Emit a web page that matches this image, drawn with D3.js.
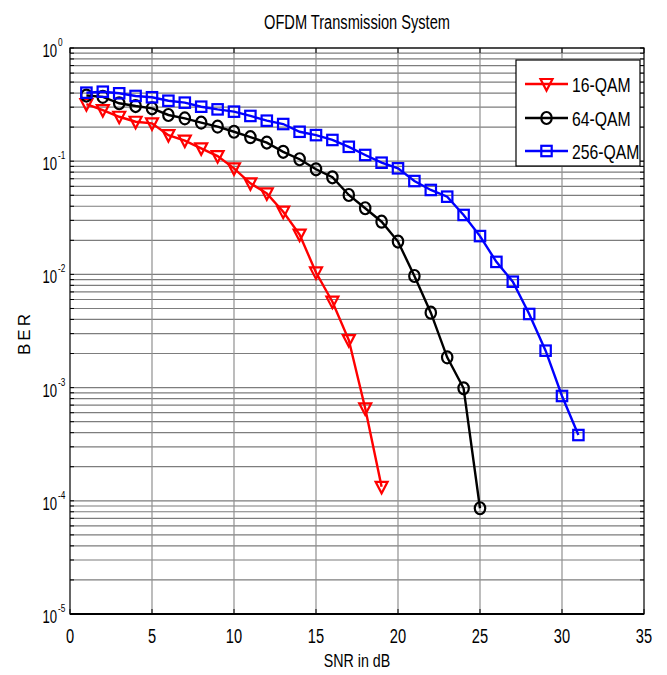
<!DOCTYPE html>
<html>
<head>
<meta charset="utf-8">
<script src="https://cdn.jsdelivr.net/npm/d3@7"></script>
<style>
  body { margin: 0; background: #fff; }
  text { font-family: "Liberation Sans", Arial, sans-serif; fill: #000; }
</style>
</head>
<body>
<div id="chart"></div>
<script>
// ── Data ───────────────────────────────────────────────────────────────────────
const snr16 = [1,2,3,4,5,6,7,8,9,10,11,12,13,14,15,16,17,18,19];
const ber16 = [0.32,0.283,0.247,0.223,0.216,0.170,0.152,0.130,0.111,0.0865,0.0638,0.052,0.0358,0.0225,0.0104,0.00574,0.00263,0.000656,0.000133];

const snr64 = [1,2,3,4,5,6,7,8,9,10,11,12,13,14,15,16,17,18,19,20,21,22,23,24,25];
const ber64 = [0.38,0.37,0.325,0.307,0.293,0.256,0.239,0.219,0.202,0.182,0.163,0.146,0.121,0.104,0.0848,0.0721,0.0503,0.0384,0.0292,0.0195,0.00968,0.00459,0.00185,0.000986,0.0000859];

const snr256 = [1,2,3,4,5,6,7,8,9,10,11,12,13,14,15,16,17,18,19,20,21,22,23,24,25,26,27,28,29,30,31];
const ber256 = [0.403,0.411,0.398,0.377,0.367,0.342,0.329,0.303,0.287,0.274,0.251,0.228,0.213,0.182,0.170,0.154,0.134,0.1135,0.097,0.0865,0.0668,0.0557,0.0486,0.0335,0.0218,0.0129,0.00862,0.00447,0.00212,0.000843,0.000381];

const xTicks = [0,5,10,15,20,25,30,35];
const yExponents = [0,-1,-2,-3,-4,-5];
const seriesNames = ["16-QAM","64-QAM","256-QAM"];

// ── Layout ─────────────────────────────────────────────────────────────────────
const W = 667, H = 675;
const plot = { left: 70, right: 644, top: 48, bottom: 614 };
const SQUEEZE = 0.75;   // the source font is a condensed sans

const svg = d3.select("#chart").append("svg")
    .attr("width", W).attr("height", H);

const x = d3.scaleLinear().domain([0, 35]).range([plot.left, plot.right]);
const y = d3.scaleLog().domain([1e-5, 1]).range([plot.bottom, plot.top]);

// condensed text: wrap in a horizontally squeezed group
function ctext(parent, px, py, size, anchor) {
    return parent.append("g")
        .attr("transform", `translate(${px},${py}) scale(${SQUEEZE},1)`)
        .append("text")
        .attr("text-anchor", anchor || "start")
        .attr("font-size", size);
}

// ── Grid ───────────────────────────────────────────────────────────────────────
let minorVals = [];
for (let e = -5; e < 0; e++) {
    for (let m = 1; m < 10; m++) minorVals.push(m * Math.pow(10, e));
}
minorVals.push(1);

const grid = svg.append("g").attr("class", "grid");
grid.selectAll(".hgrid").data(minorVals).enter().append("line")
    .attr("x1", plot.left).attr("x2", plot.right)
    .attr("y1", d => y(d)).attr("y2", d => y(d))
    .attr("stroke", "#7d7d7d").attr("stroke-width", 1.2);

grid.selectAll(".vgrid").data(xTicks.slice(1, -1)).enter().append("line")
    .attr("x1", d => x(d)).attr("x2", d => x(d))
    .attr("y1", plot.top).attr("y2", plot.bottom)
    .attr("stroke", "#909090").attr("stroke-width", 1.2);

// ── Ticks (inside, both sides) ─────────────────────────────────────────────────
const ticks = svg.append("g").attr("stroke", "#000").attr("stroke-width", 1);
minorVals.forEach(v => {
    const len = 4;
    ticks.append("line").attr("x1", plot.left).attr("x2", plot.left + len).attr("y1", y(v)).attr("y2", y(v));
    ticks.append("line").attr("x1", plot.right).attr("x2", plot.right - len).attr("y1", y(v)).attr("y2", y(v));
});
xTicks.forEach(v => {
    ticks.append("line").attr("x1", x(v)).attr("x2", x(v)).attr("y1", plot.bottom).attr("y2", plot.bottom - 5);
    ticks.append("line").attr("x1", x(v)).attr("x2", x(v)).attr("y1", plot.top).attr("y2", plot.top + 5);
});

// frame
svg.append("rect")
    .attr("x", plot.left).attr("y", plot.top)
    .attr("width", plot.right - plot.left).attr("height", plot.bottom - plot.top)
    .attr("fill", "none").attr("stroke", "#000").attr("stroke-width", 1.2);
svg.append("line")
    .attr("x1", plot.left).attr("x2", plot.right)
    .attr("y1", plot.bottom).attr("y2", plot.bottom)
    .attr("stroke", "#000").attr("stroke-width", 2);

// ── Tick labels ────────────────────────────────────────────────────────────────
const xl = svg.append("g");
xTicks.forEach(d => ctext(xl, x(d), 643, 19.5, "middle").text(d));

const ylg = svg.append("g");
yExponents.forEach(d => {
    const t = ctext(ylg, 57, y(Math.pow(10, d)) + 9, 17.5, "end");
    t.append("tspan").text("10");
    ctext(ylg, 58, y(Math.pow(10, d)) - 2, 11, "start").text(d);
});

// ── Titles ─────────────────────────────────────────────────────────────────────
ctext(svg, 357, 29, 19.5, "middle").text("OFDM Transmission System");
ctext(svg, 357, 667, 19, "middle").text("SNR in dB");

svg.append("text")
    .attr("transform", "translate(30,333) rotate(-90)")
    .attr("text-anchor", "middle").attr("font-size", 17)
    .attr("letter-spacing", 3)
    .text("BER");

// ── Series ─────────────────────────────────────────────────────────────────────
const series = [
    { name: seriesNames[0], xs: snr16, ys: ber16, color: "#ff0000", marker: "tri" },
    { name: seriesNames[1], xs: snr64, ys: ber64, color: "#000000", marker: "circle" },
    { name: seriesNames[2], xs: snr256, ys: ber256, color: "#0000ff", marker: "square" }
];

const line = d3.line().x(d => x(d[0])).y(d => y(d[1]));

function drawMarker(g, kind, cx, cy, color) {
    if (kind === "tri") {
        g.append("path")
            .attr("d", `M${cx - 6},${cy - 5} L${cx + 6},${cy - 5} L${cx},${cy + 6.5} Z`)
            .attr("fill", "none").attr("stroke", color).attr("stroke-width", 2.2);
    } else if (kind === "circle") {
        g.append("ellipse")
            .attr("cx", cx).attr("cy", cy).attr("rx", 5.2).attr("ry", 6)
            .attr("fill", "none").attr("stroke", color).attr("stroke-width", 2.2);
    } else {
        g.append("rect")
            .attr("x", cx - 5.2).attr("y", cy - 5.2).attr("width", 10.4).attr("height", 10.4)
            .attr("fill", "none").attr("stroke", color).attr("stroke-width", 2.2);
    }
}

series.forEach(s => {
    const pts = s.xs.map((v, i) => [v, s.ys[i]]);
    const g = svg.append("g").attr("class", "series");
    g.append("path").datum(pts)
        .attr("d", line)
        .attr("fill", "none").attr("stroke", s.color).attr("stroke-width", 2.4);
    pts.forEach(p => drawMarker(g, s.marker, x(p[0]), y(p[1]), s.color));
});

// ── Legend ─────────────────────────────────────────────────────────────────────
const lg = svg.append("g").attr("class", "legend");
lg.append("rect")
    .attr("x", 516).attr("y", 60).attr("width", 124).attr("height", 106)
    .attr("fill", "#fff").attr("stroke", "#000").attr("stroke-width", 1.2);
const rowY = [84, 118, 151];
series.forEach((s, i) => {
    lg.append("line")
        .attr("x1", 525).attr("x2", 568).attr("y1", rowY[i]).attr("y2", rowY[i])
        .attr("stroke", s.color).attr("stroke-width", 2.4);
    drawMarker(lg, s.marker, 546.5, rowY[i], s.color);
    ctext(lg, 572, rowY[i] + 8, 21, "start").text(s.name);
});
</script>
</body>
</html>
